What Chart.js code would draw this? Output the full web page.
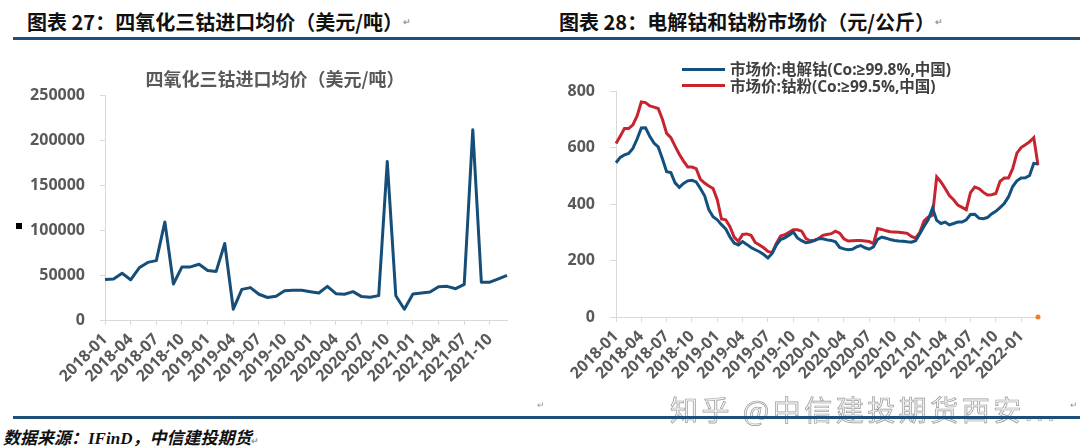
<!DOCTYPE html>
<html>
<head>
<meta charset="utf-8">
<script src="https://cdn.jsdelivr.net/npm/chart.js@4.4.0/dist/chart.umd.min.js"></script>
<style>
    body { margin: 0; width: 1080px; height: 448px; background: #fff; position: relative; overflow: hidden; font-family: 'Noto Sans CJK SC', sans-serif; }
    .heading { position: absolute; top: 9px; font-size: 20px; font-weight: bold; color: #111; line-height: 26px; white-space: nowrap; }
    .rule { position: absolute; left: 13px; right: 0; height: 3px; background: #1e4f78; }
    .mark { position: absolute; font-size: 9px; color: #999; }
    canvas { position: absolute; }
    .chartTitle { position: absolute; left: 75px; width: 400px; top: 66px; text-align: center; font-size: 18px; font-weight: bold; color: #595959; line-height: 24px; }
    .legend { position: absolute; left: 682px; top: 61px; font-family: 'Open Sans', 'Noto Sans CJK SC', sans-serif; font-weight: bold; font-size: 15.5px; color: #404040; }
    .legend div { height: 16.6px; line-height: 16.6px; white-space: nowrap; display: flex; align-items: center; }
    .legend span.line { display: inline-block; width: 43px; height: 3px; margin-right: 5px; }
    .footer { position: absolute; left: 3px; top: 424px; font-family: 'Liberation Serif', 'Noto Sans CJK SC', serif; font-style: italic; font-weight: bold; font-size: 17px; color: #111; white-space: nowrap; }
    .footer u { text-decoration: underline wavy #8080d8 1px; text-underline-offset: 3px; }
    .watermark { position: absolute; left: 670px; top: 389px; font-size: 28px; letter-spacing: 3.5px; color: #f2f2f2; -webkit-text-stroke: 0.7px #9a9a9a; white-space: nowrap; }
</style>
</head>
<body>
<div class="heading" style="left:27px">图表 27：四氧化三钴进口均价（美元/吨）<span class="mark">↵</span></div>
<div class="heading" style="left:559px">图表 28：电解钴和钴粉市场价（元/公斤）<span class="mark">↵</span></div>
<div class="rule" style="top:37px"></div>

<div style="position:absolute;left:16px;top:223px;width:6px;height:6px;background:#000"></div>

<canvas id="leftChart" width="540" height="380" style="left:0;top:40px"></canvas>
<canvas id="rightChart" width="540" height="380" style="left:540px;top:40px"></canvas>

<div class="chartTitle">四氧化三钴进口均价（美元/吨）</div>

<div class="legend">
    <div><span class="line" style="background:#12507f"></span>市场价:电解钴(Co:≥99.8%,中国)</div>
    <div><span class="line" style="background:#c8242f"></span>市场价:钴粉(Co:≥99.5%,中国)</div>
</div>

<div class="watermark">知乎 @中信建投期货西安...</div>
<div class="mark" style="left:537px;top:398px">↵</div>
<div class="mark" style="left:1070px;top:398px">↵</div>
<div class="rule" style="top:416px"></div>
<div class="footer">数据来源：IFinD，<u>中信建投期货</u><span class="mark" style="position:static;font-style:normal">↵</span></div>

<script>
// 四氧化三钴进口均价 (月度)
const leftMonths = [
    '2018-01', '2018-02', '2018-03', '2018-04', '2018-05', '2018-06', '2018-07', '2018-08', '2018-09', '2018-10', '2018-11', '2018-12',
    '2019-01', '2019-02', '2019-03', '2019-04', '2019-05', '2019-06', '2019-07', '2019-08', '2019-09', '2019-10', '2019-11', '2019-12',
    '2020-01', '2020-02', '2020-03', '2020-04', '2020-05', '2020-06', '2020-07', '2020-08', '2020-09', '2020-10', '2020-11', '2020-12',
    '2021-01', '2021-02', '2021-03', '2021-04', '2021-05', '2021-06', '2021-07', '2021-08', '2021-09', '2021-10', '2021-11', '2021-12'
];
const leftValues = [
    45000, 45500, 52000, 44700, 58000, 64000, 66000, 109000, 40000, 59000, 59000, 62000,
    55000, 54000, 85000, 12000, 34000, 36000, 28600, 25000, 26400, 32600, 33000, 33000,
    31500, 30000, 37400, 29300, 28600, 31500, 26000, 25300, 27100, 176000, 27000, 12000,
    29000, 30000, 31000, 37000, 37400, 34800, 39600, 211500, 42000, 42000, 45800, 49500
];
const leftYTicks = { min: 0, max: 250000, step: 50000 };

// 电解钴和钴粉市场价 (半月)
const rightDates = [];
for (let y = 2018; y <= 2022; y++) {
    for (let m = 1; m <= 12; m++) {
        if (y === 2022 && m > 2) break;
        const mm = String(m).padStart(2, '0');
        rightDates.push(`${y}-${mm}-01`, `${y}-${mm}-16`);
    }
}
rightDates.push('2022-03-01');

const cobaltMetal = [
    546, 565, 574, 579, 597, 630, 669, 670, 640, 616,
    602, 560, 514, 511, 475, 459, 473, 482, 484, 478,
    455, 429, 380, 355, 344, 327, 312, 283, 262, 255,
    267, 257, 246, 238, 231, 221, 209, 225, 255, 274,
    280, 289, 301, 280, 270, 263, 265, 270, 277, 277,
    273, 271, 266, 246, 241, 238, 240, 248, 253, 245,
    240, 248, 275, 283, 279, 274, 271, 269, 268, 266,
    265, 270, 295, 321, 345, 385, 342, 331, 336, 326,
    331, 336, 336, 344, 363, 364, 350, 348, 352, 365,
    374, 387, 402, 425, 462, 482, 492, 493, 501, 544,
    542
];
const cobaltPowder = [
    614, 640, 667, 667, 680, 712, 761, 759, 747, 743,
    738, 700, 650, 635, 605, 576, 552, 531, 531, 525,
    487, 474, 464, 455, 415, 347, 344, 320, 283, 268,
    292, 294, 289, 264, 255, 245, 232, 228, 260, 287,
    291, 300, 309, 309, 304, 278, 270, 272, 277, 289,
    292, 295, 304, 297, 277, 269, 270, 271, 271, 269,
    267, 260, 313, 310, 305, 302, 301, 300, 298, 296,
    285, 279, 300, 340, 354, 360, 496, 478, 455, 430,
    415, 396, 388, 380, 440, 460, 455, 442, 432, 433,
    437, 480, 492, 492, 525, 580, 600, 610, 620, 635,
    537
];
const thirdPoint = [{ x: '2022-03-01', y: 0 }];
const rightYTicks = { min: 0, max: 800, step: 200 };

Chart.defaults.font.family = "'Open Sans', 'Noto Sans CJK SC', sans-serif";
Chart.defaults.font.weight = 'bold';
Chart.defaults.color = '#595959';
Chart.defaults.animation = false;

const axisGray = '#d9d9d9';

const leftCtx = document.getElementById('leftChart').getContext('2d');
new Chart(leftCtx, {
    type: 'line',
    data: {
        labels: leftMonths,
        datasets: [{
            data: leftValues,
            borderColor: '#164e78',
            borderWidth: 3,
            pointRadius: 0,
            tension: 0,
            borderJoinStyle: 'round',
        }],
    },
    options: {
        responsive: false,
        layout: { padding: { left: 0, right: 33, top: 55, bottom: 20 } },
        plugins: {
            legend: { display: false },
            tooltip: { enabled: false },
        },
        scales: {
            x: {
                offset: false,
                grid: {
                    drawOnChartArea: false,
                    tickLength: 5,
                    color: ctx => (ctx.index % 3 === 0 ? axisGray : 'rgba(0,0,0,0)'),
                },
                border: { color: axisGray },
                ticks: {
                    autoSkip: false,
                    maxRotation: 45,
                    minRotation: 45,
                    padding: 5,
                    font: { size: 16 },
                    callback: function (v, i) { return i % 3 === 0 ? this.getLabelForValue(v) : ''; },
                },
                afterFit: s => { s.height = 80; },
            },
            y: {
                min: leftYTicks.min,
                max: leftYTicks.max,
                grid: { drawOnChartArea: false, tickLength: 5, color: axisGray },
                border: { color: axisGray },
                ticks: { stepSize: leftYTicks.step, padding: 15, font: { size: 16 }, callback: v => String(v) },
                afterFit: s => { s.width = 105; },
            },
        },
    },
});

const rightCtx = document.getElementById('rightChart').getContext('2d');
new Chart(rightCtx, {
    type: 'line',
    data: {
        labels: rightDates,
        datasets: [
            {
                label: '市场价:电解钴(Co:≥99.8%,中国)',
                data: cobaltMetal,
                borderColor: '#12507f',
                borderWidth: 3,
                pointRadius: 0,
                tension: 0,
            },
            {
                label: '市场价:钴粉(Co:≥99.5%,中国)',
                data: cobaltPowder,
                borderColor: '#c8242f',
                borderWidth: 3,
                pointRadius: 0,
                tension: 0,
            },
            {
                data: thirdPoint,
                showLine: false,
                pointRadius: 2.5,
                pointBackgroundColor: '#ed7d31',
                pointBorderWidth: 0,
                clip: false,
            },
        ],
    },
    options: {
        responsive: false,
        layout: { padding: { left: 0, right: 42, top: 51, bottom: 23 } },
        plugins: {
            legend: { display: false },
            tooltip: { enabled: false },
        },
        scales: {
            x: {
                offset: false,
                grid: {
                    drawOnChartArea: false,
                    tickLength: 5,
                    color: ctx => (ctx.index % 6 === 0 ? axisGray : 'rgba(0,0,0,0)'),
                },
                border: { color: axisGray },
                ticks: {
                    autoSkip: false,
                    maxRotation: 45,
                    minRotation: 45,
                    padding: 5,
                    font: { size: 16 },
                    callback: function (v, i) { return i % 6 === 0 ? this.getLabelForValue(v).slice(0, 7) : ''; },
                },
                afterFit: s => { s.height = 80; },
            },
            y: {
                min: rightYTicks.min,
                max: rightYTicks.max,
                grid: { drawOnChartArea: false, tickLength: 6, color: axisGray },
                border: { color: axisGray },
                ticks: { stepSize: rightYTicks.step, padding: 15, font: { size: 16 } },
                afterFit: s => { s.width = 76; },
            },
        },
    },
});
</script>
</body>
</html>
